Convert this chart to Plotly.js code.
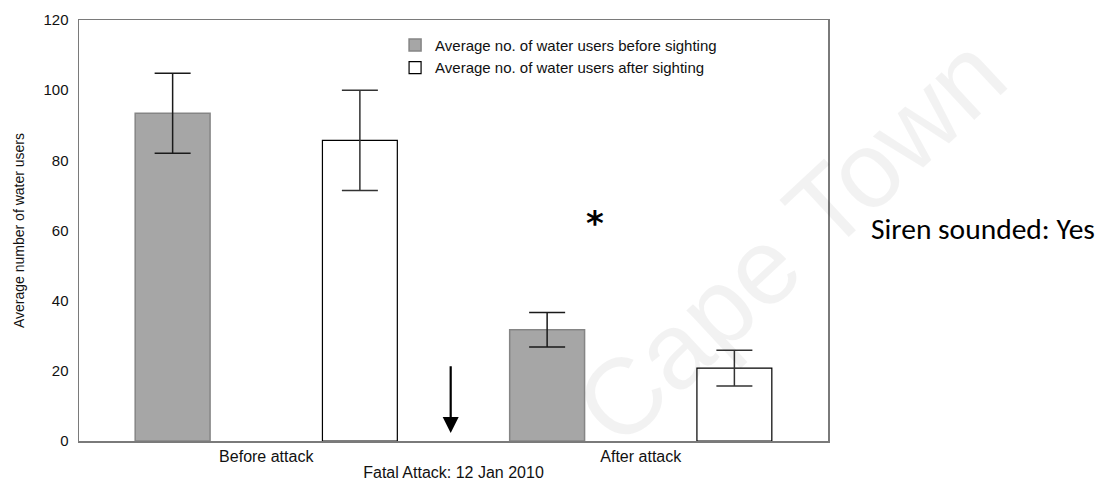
<!DOCTYPE html>
<html>
<head>
<meta charset="utf-8">
<script src="https://cdn.plot.ly/plotly-3.0.1.min.js"></script>
<style>
  html, body { margin: 0; padding: 0; background: #fff; }
  #chart { width: 1099px; height: 485px; }
</style>
</head>
<body>
<div id="chart"></div>
<script>
// ---- data ----
const categories = ["Before attack", "After attack"];
const seriesBeforeName = "Average no. of water users before sighting";
const seriesAfterName = "Average no. of water users after sighting";
const beforeSighting = [93.4, 31.7];
const beforeSightingErr = [11.4, 4.9];
const afterSighting = [85.7, 20.8];
const afterSightingErr = [14.3, 5.1];
const yTicks = [0, 20, 40, 60, 80, 100, 120];

const axisFont = "Liberation Sans, Arial, sans-serif";

const traces = [
  {
    type: "bar",
    name: seriesBeforeName,
    x: categories,
    y: beforeSighting,
    width: 0.2,
    offset: -0.35,
    marker: { color: "#a6a6a6", line: { color: "#858585", width: 1.5 } },
    error_y: { type: "data", array: beforeSightingErr, visible: true, color: "#1a1a1a", thickness: 1.5, width: 18 }
  },
  {
    type: "bar",
    name: seriesAfterName,
    x: categories,
    y: afterSighting,
    width: 0.2,
    offset: 0.15,
    marker: { color: "#ffffff", line: { color: "#000000", width: 1.2 } },
    error_y: { type: "data", array: afterSightingErr, visible: true, color: "#333333", thickness: 1.5, width: 18 }
  }
];

const layout = {
  width: 1099,
  height: 485,
  margin: { l: 79, r: 271, t: 20, b: 44 },
  paper_bgcolor: "#ffffff",
  plot_bgcolor: "#ffffff",
  barmode: "overlay",
  font: { family: axisFont, color: "#111111", size: 15 },
  showlegend: true,
  legend: {
    x: 0.422, y: 0.979, xanchor: "left", yanchor: "top",
    bgcolor: "rgba(0,0,0,0)",
    font: { family: axisFont, size: 15, color: "#111111" },
    traceorder: "normal",
    tracegroupgap: 0
  },
  xaxis: {
    type: "category",
    range: [-0.5, 1.5],
    showline: true, mirror: true, linecolor: "#7a7a7a", linewidth: 1.5,
    showgrid: false, zeroline: false, ticks: "",
    automargin: false,
    tickfont: { family: axisFont, size: 16, color: "#111111" },
    title: { text: "Fatal Attack: 12 Jan 2010", font: { family: axisFont, size: 16, color: "#111111" }, standoff: 3 }
  },
  yaxis: {
    range: [0, 120],
    tickvals: yTicks,
    ticktext: yTicks.map(String),
    showline: true, mirror: true, linecolor: "#7a7a7a", linewidth: 1.5,
    showgrid: false, zeroline: false, ticks: "",
    ticklabelstandoff: 6,
    automargin: false,
    tickfont: { family: axisFont, size: 15, color: "#111111" },
    title: { text: "Average number of water users", font: { family: axisFont, size: 14, color: "#111111" }, standoff: 15 }
  },
  annotations: [
    {
      // faint watermark
      xref: "paper", yref: "paper", x: 0.949, y: 0.477,
      text: "Cape Town", showarrow: false, textangle: -43,
      xanchor: "center", yanchor: "middle",
      font: { family: axisFont, size: 108, color: "rgba(0,0,0,0.05)" }
    },
    {
      // arrow marking the attack
      xref: "x", yref: "y", x: 0.4925, y: 2.3,
      axref: "x", ayref: "y", ax: 0.4925, ay: 21.7,
      text: "", showarrow: true, arrowhead: 2, arrowsize: 1.45, arrowwidth: 2.2,
      arrowcolor: "#000000", standoff: 0, startstandoff: 0
    },
    {
      // significance asterisk
      xref: "x", yref: "y", x: 0.878, y: 62.1,
      text: "<b>*</b>", showarrow: false, xanchor: "center", yanchor: "middle",
      font: { family: "DejaVu Sans, sans-serif", size: 34, color: "#000000" }
    },
    {
      xref: "paper", yref: "paper", x: 1.0547, y: 0.5036,
      text: "Siren sounded: Yes", showarrow: false, xanchor: "left", yanchor: "middle",
      font: { family: "Carlito, Lato, sans-serif", size: 29.5, color: "#000000" }
    }
  ]
};

Plotly.newPlot("chart", traces, layout, { displayModeBar: false, staticPlot: true });
</script>
</body>
</html>
